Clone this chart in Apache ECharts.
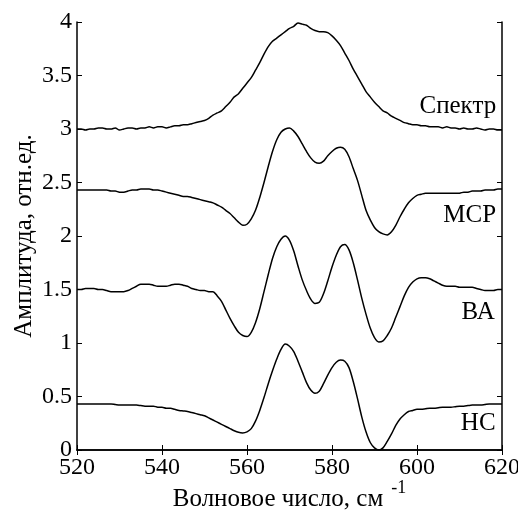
<!DOCTYPE html>
<html>
<head>
<meta charset="utf-8">
<script src="https://cdn.jsdelivr.net/npm/echarts@6/dist/echarts.min.js"></script>
<style>
  html, body { margin: 0; padding: 0; background: #fff; }
  #chart { width: 518px; height: 511px; }
</style>
</head>
<body>
<div id="chart"></div>
<script>
  // волновое число, см-1
  var wavenumbers = [520, 521, 522, 523, 524, 525, 526, 527, 528, 529, 530, 531, 532, 533, 534, 535,
    536, 537, 538, 539, 540, 541, 542, 543, 544, 545, 546, 547, 548, 549, 550, 551, 552, 553, 554,
    555, 556, 557, 558, 559, 560, 561, 562, 563, 564, 565, 566, 567, 568, 569, 570, 571, 572, 573,
    574, 575, 576, 577, 578, 579, 580, 581, 582, 583, 584, 585, 586, 587, 588, 589, 590, 591, 592,
    593, 594, 595, 596, 597, 598, 599, 600, 601, 602, 603, 604, 605, 606, 607, 608, 609, 610, 611,
    612, 613, 614, 615, 616, 617, 618, 619, 620];

  var spectrum = [3.00, 3.00, 2.99, 3.00, 3.00, 3.01, 3.01, 3.00, 3.00, 3.01, 2.99, 3.00, 3.01, 3.01,
    3.00, 3.01, 3.01, 3.02, 3.01, 3.02, 3.02, 3.01, 3.02, 3.03, 3.03, 3.04, 3.04, 3.05, 3.06, 3.07,
    3.08, 3.10, 3.13, 3.15, 3.17, 3.21, 3.25, 3.30, 3.33, 3.38, 3.43, 3.48, 3.55, 3.62, 3.70, 3.77,
    3.82, 3.85, 3.88, 3.91, 3.94, 3.96, 3.99, 3.98, 3.97, 3.94, 3.92, 3.91, 3.91, 3.90, 3.87, 3.83,
    3.78, 3.71, 3.64, 3.56, 3.49, 3.42, 3.35, 3.30, 3.25, 3.21, 3.17, 3.15, 3.12, 3.10, 3.08, 3.06,
    3.05, 3.04, 3.04, 3.03, 3.03, 3.02, 3.02, 3.02, 3.01, 3.02, 3.01, 3.01, 3.00, 3.01, 3.00, 3.00,
    3.01, 3.00, 2.99, 3.00, 3.00, 2.99, 2.99];
  var msr = [2.43, 2.43, 2.43, 2.43, 2.43, 2.43, 2.43, 2.43, 2.42, 2.42, 2.41, 2.41, 2.42, 2.43,
    2.43, 2.44, 2.44, 2.44, 2.43, 2.43, 2.42, 2.41, 2.40, 2.39, 2.38, 2.37, 2.37, 2.36, 2.35, 2.34,
    2.33, 2.32, 2.31, 2.29, 2.27, 2.24, 2.21, 2.17, 2.13, 2.10, 2.11, 2.16, 2.24, 2.36, 2.50, 2.65,
    2.79, 2.90, 2.97, 3.00, 3.01, 2.98, 2.93, 2.86, 2.79, 2.73, 2.69, 2.68, 2.70, 2.75, 2.79, 2.82,
    2.83, 2.81, 2.74, 2.63, 2.52, 2.38, 2.24, 2.15, 2.08, 2.04, 2.02, 2.01, 2.04, 2.10, 2.18, 2.25,
    2.31, 2.35, 2.38, 2.39, 2.40, 2.40, 2.40, 2.40, 2.40, 2.40, 2.40, 2.40, 2.40, 2.41, 2.41, 2.42,
    2.42, 2.42, 2.43, 2.43, 2.43, 2.44, 2.44];
  var ba = [1.50, 1.50, 1.51, 1.51, 1.51, 1.50, 1.50, 1.49, 1.48, 1.48, 1.48, 1.48, 1.49, 1.51,
    1.53, 1.55, 1.55, 1.55, 1.54, 1.53, 1.53, 1.53, 1.54, 1.55, 1.55, 1.54, 1.53, 1.51, 1.50, 1.49,
    1.49, 1.48, 1.48, 1.44, 1.39, 1.31, 1.23, 1.16, 1.10, 1.07, 1.06, 1.10, 1.19, 1.32, 1.48, 1.64,
    1.79, 1.90, 1.97, 2.00, 1.96, 1.86, 1.72, 1.59, 1.49, 1.41, 1.37, 1.38, 1.46, 1.58, 1.71, 1.82,
    1.90, 1.92, 1.87, 1.75, 1.59, 1.42, 1.27, 1.14, 1.05, 1.01, 1.02, 1.07, 1.14, 1.24, 1.34, 1.44,
    1.52, 1.57, 1.60, 1.61, 1.61, 1.60, 1.58, 1.56, 1.54, 1.53, 1.53, 1.53, 1.52, 1.52, 1.52, 1.52,
    1.51, 1.50, 1.49, 1.49, 1.49, 1.50, 1.50];
  var nc = [0.43, 0.43, 0.43, 0.43, 0.43, 0.43, 0.43, 0.43, 0.43, 0.425, 0.42, 0.42, 0.42, 0.42,
    0.42, 0.415, 0.41, 0.41, 0.41, 0.40, 0.40, 0.39, 0.39, 0.38, 0.37, 0.365, 0.36, 0.35, 0.34, 0.33,
    0.32, 0.30, 0.28, 0.26, 0.24, 0.22, 0.20, 0.18, 0.165, 0.16, 0.17, 0.20, 0.27, 0.37, 0.49, 0.62,
    0.74, 0.85, 0.94, 0.99, 0.97, 0.92, 0.83, 0.73, 0.63, 0.56, 0.53, 0.55, 0.62, 0.70, 0.77, 0.82,
    0.84, 0.83, 0.77, 0.64, 0.48, 0.31, 0.17, 0.07, 0.02, 0.00, 0.02, 0.08, 0.15, 0.23, 0.29, 0.33,
    0.36, 0.37, 0.38, 0.38, 0.385, 0.39, 0.39, 0.395, 0.40, 0.40, 0.40, 0.405, 0.41, 0.41, 0.415,
    0.42, 0.42, 0.42, 0.425, 0.43, 0.43, 0.43, 0.43];

  var seriesNames = ['Спектр', 'МСР', 'ВА', 'НС'];
  var labelX = [609.6, 612.4, 614.4, 614.4];
  var labelY = [3.21, 2.19, 1.29, 0.25];

  var font = 'Liberation Serif';
  var chart = echarts.init(document.getElementById('chart'));

  function pairs(vals) {
    return wavenumbers.map(function (x, i) { return [x, vals[i]]; });
  }

  var seriesData = [spectrum, msr, ba, nc];

  var hiddenAxis = {
    axisLine: { show: true, lineStyle: { color: '#000', width: 1.5 } },
    axisTick: { show: true, inside: true, length: 5, lineStyle: { color: '#000', width: 1 } },
    axisLabel: { show: false },
    splitLine: { show: false }
  };

  chart.setOption({
    animation: false,
    textStyle: { fontFamily: font },
    grid: { left: 77, right: 16, top: 22, bottom: 61, outerBoundsMode: 'none', containLabel: false },
    xAxis: [
      {
        type: 'value',
        min: 520,
        max: 620,
        interval: 20,
        position: 'bottom',
        name: '{a|Волновое число, см}{b|-1}',
        nameLocation: 'middle',
        nameMoveOverlap: false,
        nameGap: 29,
        nameTextStyle: {
          rich: {
            a: { fontFamily: font, fontSize: 25, color: '#000', verticalAlign: 'bottom', lineHeight: 33 },
            b: { fontFamily: font, fontSize: 18, color: '#000', verticalAlign: 'top', padding: [0, 0, 0, 8] }
          }
        },
        axisLine: { lineStyle: { color: '#000', width: 1.5 } },
        axisTick: { inside: true, length: 5, lineStyle: { color: '#000', width: 1 } },
        axisLabel: { color: '#000', fontSize: 24, fontFamily: font, margin: 6 },
        splitLine: { show: false }
      },
      Object.assign({ type: 'value', min: 520, max: 620, interval: 20, position: 'top' }, hiddenAxis)
    ],
    yAxis: [
      {
        type: 'value',
        min: 0,
        max: 4,
        interval: 0.5,
        position: 'left',
        name: 'Амплитуда, отн.ед.',
        nameLocation: 'middle',
        nameMoveOverlap: false,
        nameRotate: 90,
        nameGap: 40,
        nameTextStyle: { color: '#000', fontSize: 25, fontFamily: font },
        axisLine: { show: true, lineStyle: { color: '#000', width: 1.5 } },
        axisTick: { show: true, inside: true, length: 5, lineStyle: { color: '#000', width: 1 } },
        axisLabel: { color: '#000', fontSize: 24, fontFamily: font, margin: 5 },
        splitLine: { show: false }
      },
      Object.assign({ type: 'value', min: 0, max: 4, interval: 0.5, position: 'right' }, hiddenAxis)
    ],
    series: seriesData.map(function (vals, i) {
      return {
        name: seriesNames[i],
        type: 'line',
        data: pairs(vals),
        showSymbol: false,
        smooth: 0.3,
        lineStyle: { color: '#000', width: 1.5 },
        markPoint: {
          symbol: 'circle',
          symbolSize: 1,
          itemStyle: { color: 'rgba(0,0,0,0)' },
          label: {
            show: true,
            position: 'inside',
            color: '#000',
            fontFamily: font,
            fontSize: 25,
            formatter: function () { return seriesNames[i]; }
          },
          data: [{ coord: [labelX[i], labelY[i]] }]
        }
      };
    })
  });
</script>
</body>
</html>
